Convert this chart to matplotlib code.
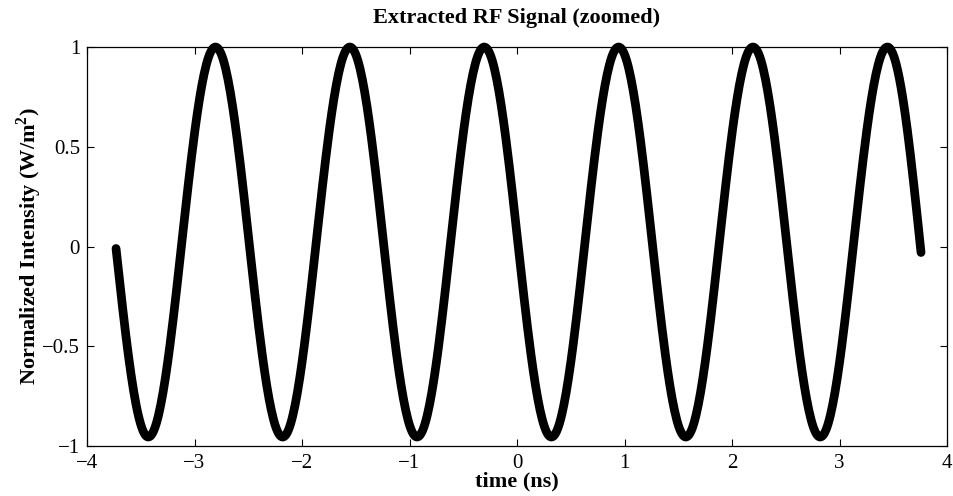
"""
plot.py — Extracted RF signal (zoomed view), recreated with matplotlib.
"""

import matplotlib
matplotlib.use("Agg")
import matplotlib.pyplot as plt
import numpy as np

# ---------------------------------------------------------------------------
# Data
# ---------------------------------------------------------------------------

# key points of the trace: start, alternating troughs / peaks, end (ns)
key_times = [-3.73, -3.43, -2.805, -2.18, -1.555, -0.93, -0.305, 0.32,
             0.945, 1.57, 2.195, 2.82, 3.445, 3.758]
key_values = [-0.01, -0.955, 1.0, -0.955, 1.0, -0.955, 1.0, -0.955,
              1.0, -0.955, 1.0, -0.955, 1.0, -0.03]
# which key points are turning points (peaks / troughs)
key_is_extremum = [False] + [True] * 12 + [False]

x_ticks = [-4, -3, -2, -1, 0, 1, 2, 3, 4]
y_ticks = [-1, -0.5, 0, 0.5, 1]
y_tick_labels = ["\u22121", "\u22120.5", "0", "0.5", "1"]

TITLE = "Extracted RF Signal (zoomed)"
XLABEL = "time (ns)"
YLABEL = r"Normalized Intensity (W/m$^\mathbf{2}$)"


def trace(times, values, extremum, n=60):
    """Join the key points with smooth wave-shaped segments."""
    xs, ys = [], []
    for i in range(len(times) - 1):
        t0, t1 = times[i], times[i + 1]
        v0, v1 = values[i], values[i + 1]
        s = np.linspace(0.0, 1.0, n)
        if extremum[i] and extremum[i + 1]:
            w = (1 - np.cos(np.pi * s)) / 2          # half wave
        elif not extremum[i]:
            w = np.sin(np.pi * s / 2)                # zero crossing -> turn
        else:
            w = 1 - np.cos(np.pi * s / 2)            # turn -> zero crossing
        xs.append(t0 + (t1 - t0) * s)
        ys.append(v0 + (v1 - v0) * w)
    return np.concatenate(xs), np.concatenate(ys)


plt.rcParams["font.family"] = ["Liberation Serif", "DejaVu Serif"]
plt.rcParams["mathtext.fontset"] = "custom"
plt.rcParams["mathtext.rm"] = "Liberation Serif"
plt.rcParams["mathtext.bf"] = "Liberation Serif:bold"

fig = plt.figure(figsize=(9.54, 4.96), dpi=100)
ax = fig.add_axes([0.0912, 0.1008, 0.9015, 0.8044])

t, y = trace(key_times, key_values, key_is_extremum)
ax.plot(t, y, color="black", linewidth=6.3, solid_capstyle="round",
        clip_on=False)

ax.set_xlim(-4, 4)
ax.set_ylim(-1, 1)
ax.set_xticks(x_ticks)
ax.set_yticks(y_ticks)
ax.set_yticklabels(y_tick_labels)
ax.tick_params(direction="in", length=5, width=0.8, top=True, right=True,
               labelsize=15)
ax.tick_params(axis="x", pad=6)
ax.tick_params(axis="y", pad=5)
for sp in ax.spines.values():
    sp.set_linewidth(0.9)

ax.set_title(TITLE, fontsize=16, fontweight="bold", pad=17)
ax.set_xlabel(XLABEL, fontsize=16, fontweight="bold", labelpad=-1)
ax.set_ylabel(YLABEL, fontsize=16, fontweight="bold", labelpad=-1)

fig.savefig("out.png", dpi=100)
